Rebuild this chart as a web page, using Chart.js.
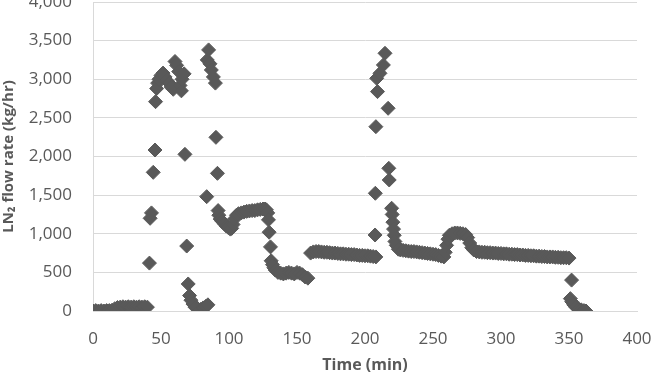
<!DOCTYPE html>
<html>
<head>
<meta charset="utf-8">
<script src="https://cdn.jsdelivr.net/npm/chart.js@4/dist/chart.umd.min.js"></script>
<style>
  html, body { margin: 0; padding: 0; background: #ffffff; }
  #wrap { width: 657px; height: 381px; }
</style>
</head>
<body>
<div id="wrap"><canvas id="c" width="657" height="381"></canvas></div>
<script>
// ---- Data (time in min, LN2 flow in kg/hr) ----
const xTickValues = [0, 50, 100, 150, 200, 250, 300, 350, 400];
const yTickValues = [0, 500, 1000, 1500, 2000, 2500, 3000, 3500, 4000];

// Start-up and first two peaks
const timeA = [0, 2, 4, 6, 8, 10, 12, 14, 16, 18, 20, 22, 24, 26, 28, 30, 32, 34, 36, 38, 40,
  41.5, 42, 43, 44.3, 45.6, 46, 46.8, 47.5, 48.5, 50, 51.5, 53, 54.5, 56, 57.5, 59, 60.3, 61.5, 63, 64, 65, 65.5, 67,
  67.6, 68.9, 70, 71, 72, 73.5, 75, 77, 79, 81, 83, 84.5,
  83.6, 84, 85, 86, 87, 88.5, 90, 90.4, 91.5];
const flowA = [0, 5, 0, 5, 0, 5, 5, 10, 30, 45, 50, 55, 50, 55, 50, 55, 50, 55, 50, 55, 50,
  620, 1200, 1270, 1795, 2084, 2710, 2880, 2950, 3000, 3050, 3080, 3030, 2980, 2950, 2900, 2870, 3230, 3180, 3100, 2920, 2850, 3000, 3070,
  2028, 841, 350, 200, 140, 90, 50, 30, 20, 40, 60, 80,
  1480, 3250, 3380, 3200, 3120, 3030, 2950, 2248, 1782];

// Plateau near 1,300 and drop to ~500
const timeB = [92, 92.5, 93.5, 95, 96.5, 98, 99.5, 101, 102, 103, 104, 105.5, 107, 109, 111, 113, 115, 117, 119, 121, 123, 125, 126.5, 127.5, 128.5,
  129, 129.5, 130.5, 131, 132, 133, 134, 136, 138, 140, 142, 144, 146, 148, 150, 152, 154, 156, 158];
const flowB = [1300, 1240, 1190, 1160, 1130, 1100, 1080, 1060, 1070, 1120, 1190, 1240, 1260, 1270, 1280, 1290, 1295, 1300, 1300, 1310, 1315, 1320, 1320, 1310, 1270,
  1180, 1020, 830, 650, 600, 560, 530, 500, 490, 480, 490, 500, 490, 480, 500, 490, 470, 440, 425];

// Plateau near 750 and third peak
const timeC = [160, 162, 164, 166, 168, 170, 172, 174, 176, 178, 180, 182, 184, 186, 188, 190, 192, 194, 196, 198, 200, 202, 204, 206, 208,
  207.4, 207.6, 208, 209.2, 208.6, 211, 213.5, 214.7, 217, 217.5, 217.8, 219.6, 220, 220.5, 221, 221.5, 222, 223, 224.5,
  226, 228, 230, 232, 234, 236, 238, 240, 242, 244, 246, 248, 250, 252, 254, 256, 258];
const flowC = [750, 765, 770, 770, 765, 760, 760, 755, 750, 750, 745, 740, 740, 735, 735, 730, 730, 725, 720, 720, 715, 715, 710, 705, 700,
  984, 1524, 2386, 2840, 3012, 3077, 3185, 3336, 2624, 1847, 1696, 1330, 1250, 1150, 1060, 980, 900, 850, 800,
  790, 785, 780, 775, 770, 770, 765, 760, 755, 750, 745, 740, 735, 730, 720, 710, 700];

// Bump near 1,000, final plateau and shut-down
const timeD = [259, 260, 261, 262, 264, 266, 268, 270, 272, 274, 275.5, 277, 278.5, 280, 282, 284, 286, 288, 290, 292, 294, 296, 298, 300,
  302, 304, 306, 308, 310, 312, 314, 316, 318, 320, 322, 324, 326, 328, 330, 332, 334, 336, 338, 340, 342, 344, 346, 348, 350,
  351.9, 351, 352, 353.5, 355, 357, 359, 361, 362.5];
const flowD = [760, 850, 930, 980, 1000, 1010, 1010, 1005, 1000, 990, 950, 880, 820, 790, 770, 765, 760, 760, 755, 755, 750, 750, 745, 745,
  740, 740, 735, 735, 730, 730, 725, 725, 720, 720, 715, 715, 710, 710, 705, 705, 700, 700, 700, 695, 695, 690, 690, 690, 685,
  400, 160, 120, 80, 50, 30, 15, 5, 0];

const allTimes = [...timeA, ...timeB, ...timeC, ...timeD];
const allFlows = [...flowA, ...flowB, ...flowC, ...flowD];
const points = allTimes.map((t, i) => ({ x: t, y: allFlows[i] }));

const textColor = '#595959';
const gridColor = '#d9d9d9';
const fontFamily = '"Open Sans", "Liberation Sans", sans-serif';

function fitYAxis(s) {
  s.width = 93;
  s.paddingTop = 0;
  s.paddingBottom = 0;
}
function fitXAxis(s) {
  s.height = 70;
  s.paddingLeft = 0;
  s.paddingRight = 0;
}

new Chart(document.getElementById('c'), {
  type: 'scatter',
  data: {
    datasets: [{
      data: points,
      pointStyle: 'rectRot',
      pointRadius: 7,
      pointBorderWidth: 1,
      backgroundColor: '#595959',
      borderColor: '#595959'
    }]
  },
  options: {
    responsive: false,
    animation: false,
    devicePixelRatio: 1,
    layout: { autoPadding: false, padding: { top: 2, right: 20, bottom: 0, left: 0 } },
    plugins: { legend: { display: false }, tooltip: { enabled: false } },
    scales: {
      x: {
        type: 'linear',
        min: 0, max: 400,
        afterBuildTicks: s => { s.ticks = xTickValues.map(v => ({ value: v })); },
        ticks: { color: textColor, font: { family: fontFamily, size: 17 }, padding: 18, maxRotation: 0 },
        grid: { display: false, drawTicks: false },
        border: { display: true, color: gridColor },
        title: { display: true, text: 'Time (min)', color: textColor,
          font: { family: fontFamily, size: 16, weight: 'bold' }, padding: { top: 0, bottom: 6 } },
        afterFit: fitXAxis
      },
      y: {
        min: 0, max: 4000,
        afterBuildTicks: s => { s.ticks = yTickValues.map(v => ({ value: v })); },
        ticks: { color: textColor, font: { family: fontFamily, size: 17 }, padding: 21,
          callback: v => Number(v).toLocaleString('en-US') },
        grid: { color: gridColor, lineWidth: 1, drawTicks: false },
        border: { display: true, color: gridColor },
        title: { display: true, text: 'LN₂ flow rate (kg/hr)', color: textColor,
          font: { family: fontFamily, size: 15, weight: 'bold' }, padding: { top: 0, bottom: 0 } },
        afterFit: fitYAxis
      }
    }
  }
});
</script>
</body>
</html>
